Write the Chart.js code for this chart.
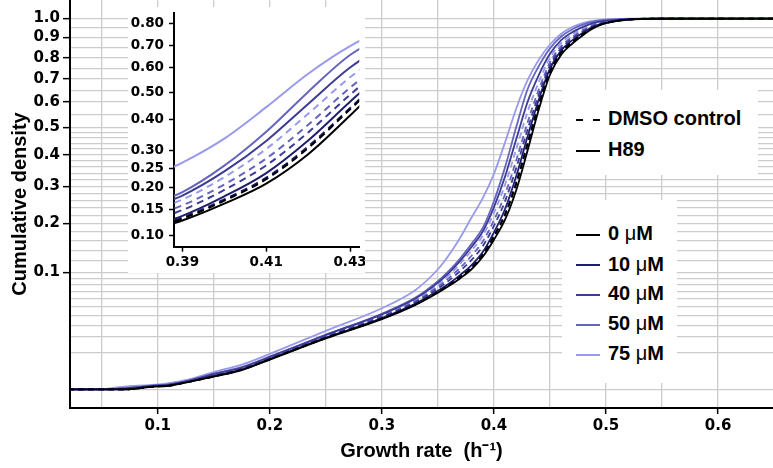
<!DOCTYPE html>
<html>
<head>
<meta charset="utf-8">
<script src="https://cdn.jsdelivr.net/npm/chart.js@4/dist/chart.umd.min.js"></script>
<style>
html, body { margin: 0; padding: 0; background: #fff; }
#wrap { position: relative; width: 773px; height: 468px; overflow: hidden; }
#main { position: absolute; left: 0; top: 0; }
#inset { position: absolute; left: 128px; top: 7px; background: #fff; }
.leg { position: absolute; background: #fff; font: bold 20px "Liberation Sans", Arial, sans-serif; color: #000; }
.item { position: absolute; left: 14px; height: 24px; line-height: 24px; white-space: nowrap; }
.item svg { vertical-align: middle; margin-right: 8px; }
.mu { font-weight: normal; }
</style>
</head>
<body>
<div id="wrap">
  <canvas id="main" width="773" height="468"></canvas>
  <canvas id="inset" width="237" height="266"></canvas>
  <div class="leg" id="legType" style="left:562px;top:90px;width:196px;height:85px;"></div>
  <div class="leg" id="legConc" style="left:562px;top:200px;width:115px;height:183px;"></div>
</div>
<script>
// growth rate (h^-1) sample points, shared by every curve
var growthRate = [0.02, 0.045, 0.07, 0.094, 0.11, 0.127, 0.15, 0.175, 0.2, 0.25, 0.3, 0.33, 0.35, 0.36, 0.37, 0.38, 0.39, 0.40, 0.41, 0.42, 0.43, 0.44, 0.45, 0.46, 0.47, 0.48, 0.49, 0.50, 0.52, 0.55, 0.65];

// cumulative density, H89 treated (solid)
var h89_0  = [0, 0, 0, 0.00005, 0.0001, 0.0004, 0.0012, 0.0027, 0.0065, 0.019, 0.036, 0.052, 0.068, 0.078, 0.09, 0.105, 0.128, 0.163, 0.21, 0.29, 0.415, 0.57, 0.72, 0.815, 0.87, 0.915, 0.952, 0.975, 0.994, 0.999, 1];
var h89_10 = [0, 0, 0, 0.00006, 0.00011, 0.00042, 0.00135, 0.0029, 0.0068, 0.0195, 0.037, 0.0535, 0.0708, 0.0816, 0.0954, 0.1124, 0.1373, 0.1794, 0.2374, 0.332, 0.4651, 0.6112, 0.7486, 0.8358, 0.887, 0.9278, 0.9598, 0.9783, 0.995, 0.9992, 1];
var h89_40 = [0, 0, 0.00001, 0.00009, 0.00017, 0.00052, 0.0017, 0.0035, 0.0077, 0.0215, 0.041, 0.0601, 0.083, 0.0993, 0.1206, 0.1476, 0.1814, 0.2417, 0.3306, 0.4568, 0.6008, 0.7183, 0.8188, 0.8866, 0.9281, 0.9573, 0.9777, 0.9885, 0.9974, 0.9997, 1];
var h89_50 = [0, 0, 0.00001, 0.00009, 0.00018, 0.00054, 0.0018, 0.0036, 0.0078, 0.0218, 0.0417, 0.0613, 0.0852, 0.1025, 0.1252, 0.1541, 0.1896, 0.2576, 0.3601, 0.5023, 0.655, 0.7597, 0.8455, 0.9057, 0.9434, 0.9683, 0.9843, 0.9922, 0.9984, 0.9998, 1];
var h89_75 = [0, 0, 0.00006, 0.00015, 0.0003, 0.0007, 0.0022, 0.0045, 0.0092, 0.025, 0.048, 0.072, 0.105, 0.132, 0.168, 0.215, 0.266, 0.338, 0.445, 0.575, 0.695, 0.79, 0.865, 0.92, 0.955, 0.977, 0.989, 0.995, 0.999, 1, 1];

// cumulative density, DMSO control (dashed)
var dmso_0  = [0, 0, 0, 0.00005, 0.0001, 0.0004, 0.0012, 0.0028, 0.0066, 0.0192, 0.0364, 0.0525, 0.0691, 0.0792, 0.092, 0.1077, 0.1316, 0.1697, 0.2214, 0.3085, 0.437, 0.5884, 0.7333, 0.8245, 0.878, 0.9212, 0.9559, 0.976, 0.9944, 0.999, 1];
var dmso_10 = [0, 0, 0, 0.00005, 0.0001, 0.0004, 0.0013, 0.0029, 0.0067, 0.0193, 0.0367, 0.0529, 0.0698, 0.0802, 0.0933, 0.1096, 0.1339, 0.1726, 0.2253, 0.3134, 0.4421, 0.5925, 0.736, 0.8266, 0.8795, 0.9224, 0.9565, 0.9765, 0.9946, 0.9992, 1];
var dmso_40 = [0, 0, 0, 0.00006, 0.00013, 0.00045, 0.0014, 0.0031, 0.0071, 0.0201, 0.0381, 0.0553, 0.0742, 0.0865, 0.1023, 0.1219, 0.1493, 0.1947, 0.2583, 0.3577, 0.4914, 0.6323, 0.7627, 0.846, 0.8953, 0.9337, 0.9635, 0.9805, 0.9956, 0.9994, 1];
var dmso_50 = [0, 0, 0, 0.00007, 0.00014, 0.00047, 0.0015, 0.0032, 0.0073, 0.0205, 0.039, 0.0568, 0.077, 0.0905, 0.108, 0.1299, 0.1593, 0.2081, 0.2777, 0.383, 0.5184, 0.6538, 0.7769, 0.8564, 0.9036, 0.9397, 0.9671, 0.9825, 0.996, 0.9994, 1];
var dmso_75 = [0, 0, 0.00001, 0.00008, 0.00016, 0.0005, 0.0016, 0.0033, 0.0075, 0.0211, 0.0402, 0.0588, 0.0805, 0.0956, 0.1153, 0.1402, 0.1721, 0.2267, 0.3059, 0.4212, 0.5603, 0.6867, 0.7985, 0.872, 0.9162, 0.9489, 0.9726, 0.9857, 0.9968, 0.9996, 1];

var concLabels = ['0', '10', '40', '50', '75'];
var concColors = ['#000000', '#1e1e6c', '#3c3c94', '#6565be', '#9a9aeb'];
var h89Series  = [h89_0, h89_10, h89_40, h89_50, h89_75];
var dmsoSeries = [dmso_0, dmso_10, dmso_40, dmso_50, dmso_75];

// axis ticks / gridlines
var xGrid   = [0.05, 0.1, 0.15, 0.2, 0.25, 0.3, 0.35, 0.4, 0.45, 0.5, 0.55, 0.6];
var xMajor  = [0.1, 0.2, 0.3, 0.4, 0.5, 0.6];
var yGrid   = [0, 0.01, 0.02, 0.03, 0.04, 0.05, 0.06, 0.07, 0.08, 0.09, 0.1, 0.12, 0.14, 0.16, 0.18, 0.2, 0.22, 0.24, 0.26, 0.28, 0.3, 0.32, 0.34, 0.36, 0.38, 0.4, 0.42, 0.44, 0.46, 0.48, 0.5, 0.55, 0.6, 0.65, 0.7, 0.75, 0.8, 0.85, 0.9, 0.95, 1.0];
var yMajor  = [0.1, 0.2, 0.3, 0.4, 0.5, 0.6, 0.7, 0.8, 0.9, 1.0];
var insetX  = [0.39, 0.41, 0.43];
var insetY  = [0.10, 0.15, 0.20, 0.25, 0.30, 0.40, 0.50, 0.60, 0.70, 0.80];

var tickFont = 'DejaVu Sans';
var titleFont = 'Liberation Sans';

function isIn(list, v){
    for (var i = 0; i < list.length; i++) if (Math.abs(list[i] - v) < 1e-9) return true;
    return false;
}

// y is drawn on a square-root scale
function points(vals){
    var out = [];
    for (var i = 0; i < growthRate.length; i++) out.push({x: growthRate[i], y: Math.sqrt(vals[i])});
    return out;
}

function buildDatasets(width, dash){
    var ds = [];
    for (var i = 0; i < concLabels.length; i++){
        ds.push({ label: 'H89 ' + concLabels[i], data: points(h89Series[i]), borderColor: concColors[i], borderWidth: width });
        ds.push({ label: 'DMSO ' + concLabels[i], data: points(dmsoSeries[i]), borderColor: concColors[i], borderWidth: width, borderDash: dash });
    }
    return ds;
}

function noPad(s){ s.paddingTop = 0; s.paddingBottom = 0; s.paddingLeft = 0; s.paddingRight = 0; }

new Chart(document.getElementById('main').getContext('2d'), {
    type: 'line',
    data: { datasets: buildDatasets(1.8, [6, 4]) },
    options: {
        responsive: false, animation: false, events: [],
        layout: { padding: 0 },
        plugins: { legend: { display: false }, tooltip: { enabled: false } },
        elements: { point: { radius: 0 }, line: { cubicInterpolationMode: 'monotone', fill: false } },
        scales: {
            x: {
                type: 'linear', min: 0.0217, max: 0.649,
                afterBuildTicks: function(s){ s.ticks = xGrid.map(function(v){ return {value: v}; }); },
                afterFit: function(s){ s.height = 60; noPad(s); },
                border: { color: '#000', width: 2 },
                grid: { color: '#cccccc', lineWidth: 1.3, tickLength: 6,
                        tickColor: function(c){ return c.tick && isIn(xMajor, c.tick.value) ? '#000' : 'rgba(0,0,0,0)'; },
                        tickWidth: 1.5 },
                ticks: { autoSkip: false, maxRotation: 0, padding: 3, color: '#000',
                         font: { family: tickFont, weight: 'bold', size: 15 },
                         callback: function(v){ return isIn(xMajor, v) ? v.toFixed(1) : ''; } },
                title: { display: true, text: 'Growth rate  (h\u207B\u00B9)', color: '#000',
                         font: { family: titleFont, weight: 'bold', size: 20 }, padding: { top: 0, bottom: 5 } }
            },
            y: {
                type: 'linear', min: -0.05, max: 1.05,
                afterBuildTicks: function(s){ s.ticks = yGrid.map(function(p){ return {value: Math.sqrt(p)}; }); },
                afterFit: function(s){ s.width = 70; noPad(s); },
                border: { color: '#000', width: 2 },
                grid: { color: '#cccccc', lineWidth: 1.3, tickLength: 7,
                        tickColor: function(c){ return isIn(yMajor, yGrid[c.index]) ? '#000' : 'rgba(0,0,0,0)'; },
                        tickWidth: 1.5 },
                ticks: { autoSkip: false, padding: 3, color: '#000',
                         font: { family: tickFont, weight: 'bold', size: 15 },
                         callback: function(v, i){ return isIn(yMajor, yGrid[i]) ? yGrid[i].toFixed(1) : ''; } },
                title: { display: true, text: 'Cumulative density', color: '#000',
                         font: { family: titleFont, weight: 'bold', size: 20 }, padding: { top: 8, bottom: 0 } }
            }
        }
    }
});

new Chart(document.getElementById('inset').getContext('2d'), {
    type: 'line',
    data: { datasets: buildDatasets(2, [7, 5]) },
    options: {
        responsive: false, animation: false, events: [],
        layout: { padding: { top: 6, right: 5.7, left: 0, bottom: 0 } },
        plugins: { legend: { display: false }, tooltip: { enabled: false } },
        elements: { point: { radius: 0 }, line: { cubicInterpolationMode: 'monotone', fill: false } },
        scales: {
            x: {
                type: 'linear', min: 0.388, max: 0.4322,
                afterBuildTicks: function(s){ s.ticks = insetX.map(function(v){ return {value: v}; }); },
                afterFit: function(s){ s.height = 26.3; noPad(s); },
                border: { color: '#000', width: 2 },
                grid: { drawOnChartArea: false, tickLength: 5, tickColor: '#000', tickWidth: 1.5 },
                ticks: { autoSkip: false, maxRotation: 0, padding: 3, color: '#000',
                         font: { family: tickFont, weight: 'bold', size: 13.5 },
                         callback: function(v){ return v.toFixed(2); } }
            },
            y: {
                type: 'linear', min: 0.2863, max: 0.924,
                afterBuildTicks: function(s){ s.ticks = insetY.map(function(p){ return {value: Math.sqrt(p)}; }); },
                afterFit: function(s){ s.width = 46; noPad(s); },
                border: { color: '#000', width: 2 },
                grid: { drawOnChartArea: false, tickLength: 5, tickColor: '#000', tickWidth: 1.5 },
                ticks: { autoSkip: false, padding: 5, color: '#000',
                         font: { family: tickFont, weight: 'bold', size: 13.5 },
                         callback: function(v, i){ return insetY[i].toFixed(2); } }
            }
        }
    }
});

// legends
function lineSvg(color, dashed){
    return '<svg width="24" height="4"><line x1="0" y1="2" x2="24" y2="2" stroke="' + color +
        '" stroke-width="2"' + (dashed ? ' stroke-dasharray="7,10"' : '') + '/></svg>';
}
var legType = document.getElementById('legType');
legType.innerHTML =
    '<div class="item" style="top:16px">' + lineSvg('#000', true) + 'DMSO control</div>' +
    '<div class="item" style="top:47px">' + lineSvg('#000', false) + 'H89</div>';
var legConc = document.getElementById('legConc');
var html = '';
var rowTops = [21, 51.7, 81, 111, 141];
for (var i = 0; i < concLabels.length; i++){
    html += '<div class="item" style="top:' + rowTops[i] + 'px">' + lineSvg(concColors[i], false) +
        concLabels[i] + ' <span class="mu">\u03BC</span>M</div>';
}
legConc.innerHTML = html;
</script>
</body>
</html>
